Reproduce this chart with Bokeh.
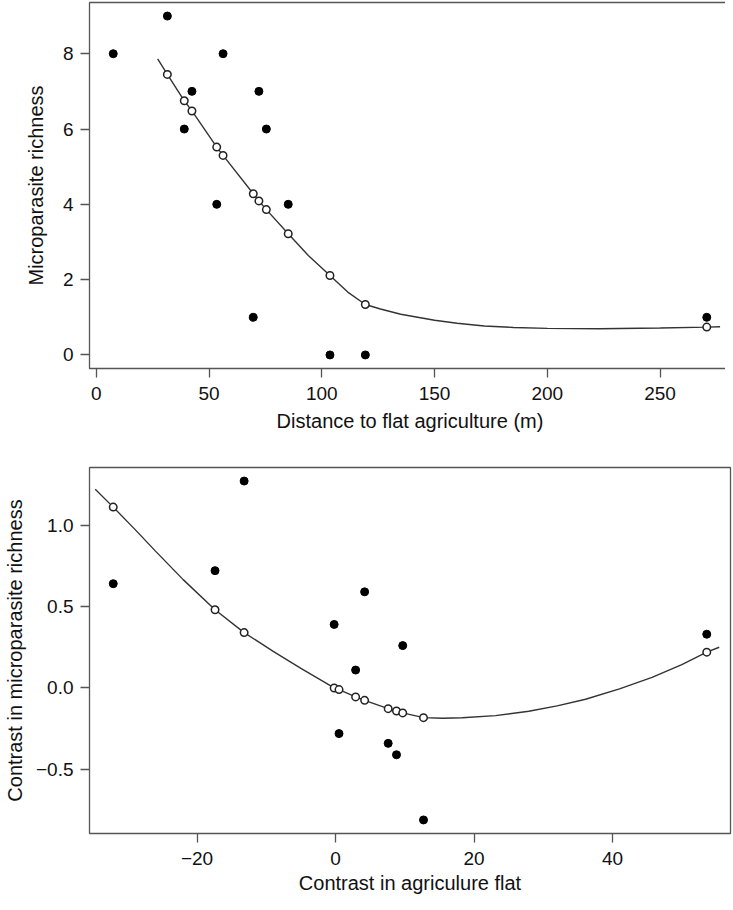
from bokeh.plotting import figure
from bokeh.layouts import column
from bokeh.models import Range1d, FixedTicker
from bokeh.embed import file_html
from bokeh.resources import INLINE

# ---- Panel 1: Distance to flat agriculture ----
dist_obs_x = [7.5, 31.5, 39.0, 42.4, 53.4, 56.2, 69.6, 72.1, 75.4, 85.1, 103.6, 119.3, 270.7]
dist_obs_y = [8, 9, 6, 7, 4, 8, 1, 7, 6, 4, 0, 0, 1]
dist_fit_x = [31.5, 39.0, 42.4, 53.4, 56.2, 69.6, 72.1, 75.4, 85.1, 103.6, 119.3, 270.7]
dist_fit_y = [7.45, 6.75, 6.48, 5.52, 5.30, 4.28, 4.09, 3.86, 3.22, 2.11, 1.34, 0.74]
dist_curve_x = [27.2, 31.5, 39.0, 42.4, 53.4, 56.2, 69.6, 72.1, 75.4, 85.1, 94.0, 103.6,
                111.5, 119.3, 126.0, 135.0, 150.0, 160.0, 172.0, 185.0, 200.0, 223.0,
                250.0, 270.7, 276.6]
dist_curve_y = [7.86, 7.45, 6.75, 6.48, 5.52, 5.30, 4.28, 4.09, 3.86, 3.22, 2.64, 2.11,
                1.67, 1.34, 1.22, 1.08, 0.92, 0.84, 0.77, 0.73, 0.705, 0.695,
                0.715, 0.74, 0.75]
dist_xticks = [0, 50, 100, 150, 200, 250]
dist_yticks = [0, 2, 4, 6, 8]

# ---- Panel 2: Contrasts ----
con_obs_x = [-32.1, -17.4, -13.2, -0.2, 0.5, 2.9, 4.2, 7.6, 8.8, 9.7, 12.7, 53.6]
con_obs_y = [0.64, 0.72, 1.27, 0.39, -0.28, 0.11, 0.59, -0.34, -0.41, 0.26, -0.81, 0.33]
con_fit_y = [1.11, 0.48, 0.34, 0.0, -0.01, -0.055, -0.076, -0.127, -0.141, -0.153, -0.182, 0.22]
con_curve_x = [-34.7, -32.1, -29.0, -26.0, -22.0, -17.4, -13.2, -9.0, -5.0, -0.2, 0.5, 2.9,
               4.2, 7.6, 8.8, 9.7, 12.7, 15.5, 18.3, 23.1, 27.9, 32.0, 36.1, 41.0, 45.7,
               50.0, 53.6, 55.4]
con_curve_y = [1.22, 1.11, 0.975, 0.84, 0.665, 0.48, 0.34, 0.225, 0.12, 0.0, -0.01, -0.055,
               -0.076, -0.127, -0.141, -0.153, -0.182, -0.186, -0.183, -0.170, -0.143,
               -0.110, -0.069, -0.006, 0.065, 0.143, 0.22, 0.25]
con_xticks = [-20, 0, 20, 40]
con_xlabels = ["\u221220", "0", "20", "40"]
con_yticks = [-0.5, 0.0, 0.5, 1.0]
con_ylabels = ["\u22120.5", "0.0", "0.5", "1.0"]

FONT = "Liberation Sans"
FRAME_COL = "#555555"
INK = "#111111"


def padded(vals):
    lo, hi = min(vals), max(vals)
    pad = 0.04 * (hi - lo)
    return Range1d(lo - pad, hi + pad)


def make_fig(xr, yr, fh, top, bottom, xlabel, ylabel, ystand, xstand):
    p = figure(output_backend="svg", toolbar_location=None,
               frame_width=641, frame_height=fh,
               x_range=xr, y_range=yr,
               min_border_left=80, min_border_right=4,
               min_border_top=top, min_border_bottom=bottom,
               background_fill_color="white", border_fill_color="white")
    p.grid.visible = False
    p.outline_line_color = FRAME_COL
    p.outline_line_width = 1.3
    for ax in (p.xaxis[0], p.yaxis[0]):
        ax.axis_line_color = None
        ax.major_tick_line_color = FRAME_COL
        ax.major_tick_line_width = 1.3
        ax.major_tick_out = 9
        ax.major_tick_in = 0
        ax.minor_tick_line_color = None
        ax.major_label_text_font = FONT
        ax.major_label_text_font_size = "19px"
        ax.major_label_text_color = INK
        ax.axis_label_text_font = FONT
        ax.axis_label_text_font_size = "20px"
        ax.axis_label_text_font_style = "normal"
        ax.axis_label_text_color = INK
    p.xaxis.major_label_standoff = 9
    p.yaxis.major_label_standoff = 7
    p.xaxis.axis_label = xlabel
    p.yaxis.axis_label = ylabel
    p.xaxis.axis_label_standoff = xstand
    p.yaxis.axis_label_standoff = ystand
    return p


p1 = make_fig(padded(dist_obs_x), padded(dist_obs_y), 366, 2, 92,
              "Distance to flat agriculture (m)", "Microparasite richness", 13, 7)
p1.xaxis.ticker = FixedTicker(ticks=dist_xticks)
p1.yaxis.ticker = FixedTicker(ticks=dist_yticks)
p1.line(dist_curve_x, dist_curve_y, line_color="#333333", line_width=1.4)
p1.scatter(dist_obs_x, dist_obs_y, size=8, fill_color="black", line_color="black")
p1.scatter(dist_fit_x, dist_fit_y, size=7.5, fill_color="white", line_color="#222222",
           line_width=1.5)

p2 = make_fig(padded(con_obs_x), padded(con_obs_y), 366, 7, 68,
              "Contrast in agriculure flat", "Contrast in microparasite richness", 7, 4)
p2.xaxis.ticker = FixedTicker(ticks=con_xticks)
p2.yaxis.ticker = FixedTicker(ticks=con_yticks)
p2.xaxis.major_label_overrides = {t: s for t, s in zip(con_xticks, con_xlabels)}
p2.yaxis.major_label_overrides = {t: s for t, s in zip(con_yticks, con_ylabels)}
p2.line(con_curve_x, con_curve_y, line_color="#333333", line_width=1.4)
p2.scatter(con_obs_x, con_obs_y, size=8, fill_color="black", line_color="black")
p2.scatter(con_obs_x, con_fit_y, size=7.5, fill_color="white", line_color="#222222",
           line_width=1.5)

layout = column(p1, p2, spacing=0)
open("out.html", "w").write(file_html(layout, INLINE))
